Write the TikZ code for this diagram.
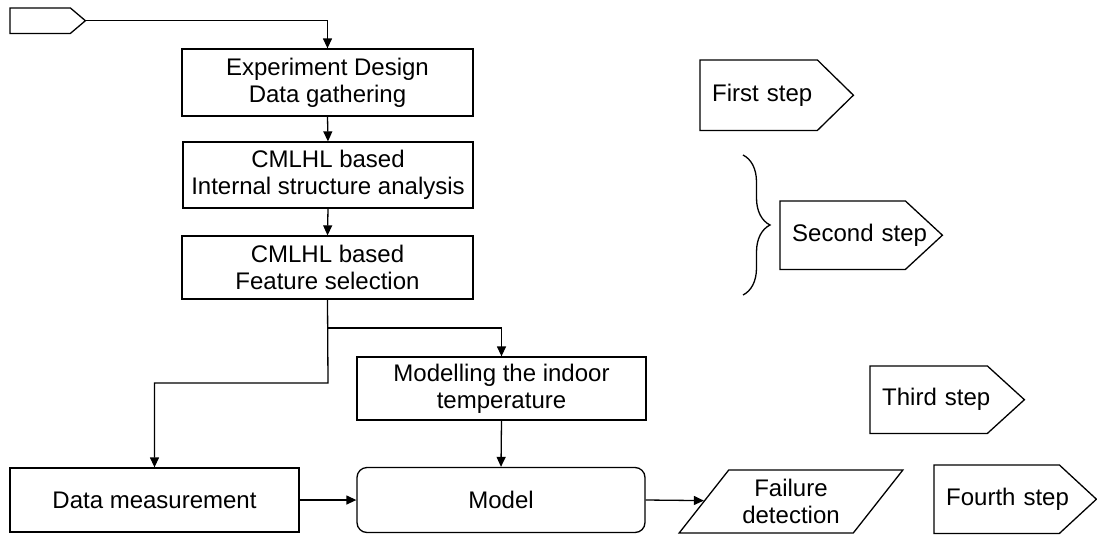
\documentclass[tikz,border=0pt]{standalone}
\usepackage{fontspec}
\setmainfont{Liberation Sans}
\usetikzlibrary{arrows.meta,shapes.geometric,decorations.pathreplacing}
\begin{document}
\begin{tikzpicture}[x=1pt,y=-1pt,
  every node/.style={font=\fontsize{24}{27}\selectfont, inner sep=0pt},
  ln/.style={line width=1.3pt, black},
  arr/.style={ln, -{Triangle[length=10pt,width=9pt]}},
  box/.style={draw, line width=1.3pt, align=center},
  stepbox/.style={anchor=north west, align=left, inner xsep=12pt, inner ysep=0pt}
]
\useasboundingbox (0,0) rectangle (1097,536);
% main chain
\node[box, minimum width=291pt, minimum height=67pt] (b1) at (327.5,82.5) {Experiment Design\\Data gathering};
\node[box, minimum width=290pt, minimum height=66pt] (b2) at (328,175) {CMLHL based\\Internal structure analysis};
\node[box, minimum width=291pt, minimum height=63pt] (b3) at (327.5,267.5) {CMLHL based\\Feature selection};
\node[box, minimum width=289pt, minimum height=63pt] (mod) at (501.5,388.5) {Modelling the indoor\\temperature};
\node[box, minimum width=289pt, minimum height=64pt] (dm) at (154.5,500) {Data measurement};
\node[box, rounded corners=10pt, minimum width=288pt, minimum height=65pt] (model) at (501,500) {Model};
\node[box, trapezium, trapezium left angle=49, trapezium right angle=131, trapezium stretches=true,
      minimum width=224pt, minimum height=63pt] (fail) at (791,501.5) {Failure\\detection};
% step signs
\node[stepbox, text width=51pt, minimum height=25pt] (s0) at (10,8) {};
\node[stepbox, text width=129pt, minimum height=70pt] (s1) at (700,60) {First step};
\node[stepbox, text width=138pt, minimum height=68pt] (s2) at (780,201) {Second step};
\node[stepbox, text width=130pt, minimum height=67pt] (s3) at (870,366) {Third step};
\node[stepbox, text width=138pt, minimum height=68pt] (s4) at (934,465) {Fourth step};
\foreach \n/\d in {s0/15,s1/36,s2/37,s3/37,s4/37}
  \draw[ln, line join=miter] (\n.north west) -- ([xshift=-\d pt]\n.north east) -- (\n.east)
        -- ([xshift=-\d pt]\n.south east) -- (\n.south west) -- cycle;
% brace
\coordinate (bt) at (743,155);
\coordinate (bb) at (743,295);
\draw[ln, decorate, decoration={brace, amplitude=27pt}] (bt) -- (bb);
% connectors
\coordinate (j1) at (328,383);
\coordinate (j2) at (328,328);
\draw[arr] (s0.east) -| (b1.north);
\draw[arr] (b1.south) -- (b2.north);
\draw[arr] (b2.south) -- (b3.north);
\draw[arr] (b3.south) -- (j1) -| (dm.north);
\draw[arr] (j2) -| (mod.north);
\draw[arr] (mod.south) -- (model.north);
\draw[arr] (dm.east) -- (model.west);
\draw[arr] (model.east) -- (fail);
\end{tikzpicture}
\end{document}
